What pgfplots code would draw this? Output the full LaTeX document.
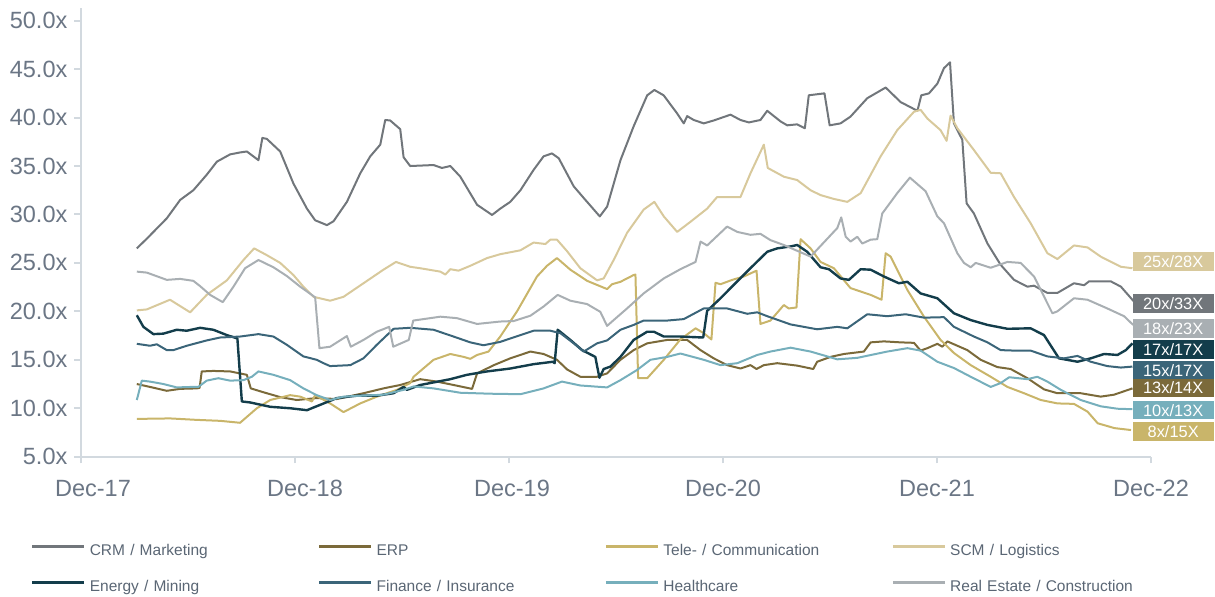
\documentclass[border=0pt]{standalone}
\usepackage{pgfplots}
\pgfplotsset{compat=1.18}
\usepackage{fontspec}
\setmainfont{Liberation Sans}
\definecolor{crm}{HTML}{71767B}
\definecolor{erp}{HTML}{7B6A3A}
\definecolor{tele}{HTML}{C9B56A}
\definecolor{scm}{HTML}{D8C99C}
\definecolor{energy}{HTML}{133D4B}
\definecolor{fin}{HTML}{3B6579}
\definecolor{health}{HTML}{76AFBC}
\definecolor{realest}{HTML}{A9AFB3}
\definecolor{axiscol}{HTML}{D2D9DF}
\definecolor{ticklab}{HTML}{6B7685}
\definecolor{legtext}{HTML}{5A6674}
\begin{document}
\begin{tikzpicture}
\begin{axis}[
  scale only axis, width=535pt, height=224.35pt,
  xmin=0, xmax=60, ymin=5, ymax=51.31,
  axis lines=left,
  axis line style={-, draw=axiscol, line width=1pt},
  tick align=outside, major tick length=3.3pt,
  tick style={draw=axiscol, line width=1pt},
  xtick={0,12,24,36,48,60},
  xticklabels={\hspace*{12pt}Dec-17,\hspace*{10pt}Dec-18,\hspace*{3pt}Dec-19,Dec-20,Dec-21,Dec-22},
  ytick={5,10,15,20,25,30,35,40,45,50},
  yticklabels={5.0x,10.0x,15.0x,20.0x,25.0x,30.0x,35.0x,40.0x,45.0x,50.0x},
  ticklabel style={font=\fontsize{11.75pt}{14pt}\selectfont, text=ticklab},
  xticklabel style={yshift=-5pt},
  clip=false,
  legend columns=4,
  legend style={draw=none, fill=none, inner sep=0pt, outer sep=0pt,
    at={(axis description cs:0,0)}, anchor=north west, xshift=-25pt, yshift=-43.4pt,
    font=\fontsize{7.75pt}{9pt}\selectfont, text=legtext,
    nodes={inner sep=0pt, text height=6pt, text depth=2pt, text width=114pt, align=left},
    row sep=10pt,
    /tikz/every odd column/.append style={column sep=2pt}},
  legend cell align=left,
  legend image code/.code={\draw[#1, line width=1.4pt] (0pt,2.6pt) -- (26pt,2.6pt);},
  every axis plot/.append style={line width=1pt, line join=round},
]
\addplot[crm] coordinates {(3.13,26.5)(3.69,27.5)(4.81,29.6)(5.56,31.5)(6.30,32.5)(7.05,34.1)(7.62,35.45)(8.36,36.2)(8.92,36.4)(9.30,36.5)(9.95,35.6)(10.17,37.9)(10.42,37.8)(11.17,36.5)(11.91,33.2)(12.67,30.6)(13.13,29.4)(13.79,28.9)(14.16,29.3)(14.91,31.3)(15.66,34.25)(16.22,36.0)(16.78,37.2)(17.06,39.75)(17.34,39.7)(17.90,38.8)(18.09,35.9)(18.46,35.0)(19.77,35.1)(20.24,34.8)(20.71,35.0)(21.27,33.9)(22.21,31.0)(23.05,29.95)(23.51,30.6)(24.07,31.3)(24.64,32.5)(25.38,34.6)(25.94,36.0)(26.41,36.3)(26.79,35.8)(27.63,32.9)(28.19,31.7)(29.09,29.8)(29.50,30.8)(30.25,35.6)(30.99,39.1)(31.75,42.3)(32.15,42.85)(32.67,42.3)(33.42,40.45)(33.80,39.4)(33.99,40.15)(34.36,39.75)(34.92,39.4)(35.48,39.7)(36.42,40.3)(36.98,39.75)(37.45,39.5)(38.10,39.75)(38.48,40.7)(39.23,39.6)(39.60,39.2)(40.16,39.3)(40.59,38.9)(40.81,42.3)(41.69,42.5)(41.98,39.2)(42.59,39.4)(43.15,40.1)(44.09,42.0)(45.12,43.1)(45.96,41.6)(46.90,40.7)(47.12,42.3)(47.55,42.5)(48.02,43.5)(48.39,45.1)(48.73,45.7)(48.95,39.4)(49.42,37.7)(49.66,31.15)(50.07,30.1)(50.83,27.0)(51.57,24.8)(52.32,23.25)(53.07,22.55)(53.44,22.65)(54.19,21.9)(54.75,21.9)(55.68,22.9)(56.25,22.7)(56.53,23.1)(57.74,23.1)(58.31,22.55)(59.05,21.0)};
\addlegendentry{CRM / Marketing}
\addplot[erp] coordinates {(3.13,12.5)(3.87,12.2)(4.81,11.8)(5.56,12.0)(6.49,12.05)(6.65,12.1)(6.77,13.8)(7.42,13.85)(8.36,13.8)(9.30,13.45)(9.52,12.05)(10.23,11.65)(11.17,11.15)(12.10,10.85)(13.22,11.05)(14.35,10.95)(15.84,11.55)(16.96,12.05)(17.90,12.4)(19.02,13.0)(19.96,12.75)(20.89,12.4)(21.93,12.0)(22.21,13.6)(23.15,14.45)(24.07,15.15)(25.20,15.85)(25.94,15.6)(26.69,15.0)(27.26,14.0)(28.00,13.25)(28.94,13.25)(29.50,13.6)(30.25,15.0)(30.99,16.0)(31.75,16.7)(32.87,17.05)(33.99,17.05)(34.74,16.0)(35.48,15.15)(36.23,14.45)(36.98,14.1)(37.54,14.45)(37.88,14.05)(38.29,14.45)(39.04,14.65)(40.16,14.4)(41.06,14.05)(41.28,14.8)(42.03,15.3)(42.78,15.6)(43.90,15.85)(44.28,16.8)(45.02,16.9)(45.96,16.8)(46.71,16.75)(47.08,15.95)(47.46,16.2)(48.02,16.65)(48.30,16.35)(48.58,16.9)(49.70,16.0)(50.45,15.0)(51.38,14.25)(52.13,14.05)(53.07,13.1)(54.00,11.95)(54.75,11.55)(56.06,11.55)(57.18,11.2)(57.93,11.4)(58.96,12.05)};
\addlegendentry{ERP}
\addplot[tele] coordinates {(3.13,8.9)(4.99,8.95)(6.49,8.8)(7.80,8.7)(8.92,8.5)(9.86,10.0)(10.61,10.85)(11.73,11.35)(12.29,11.2)(12.95,10.7)(13.13,11.35)(13.97,10.5)(14.72,9.6)(15.66,10.5)(16.59,11.2)(17.72,11.9)(18.46,12.6)(18.65,13.25)(19.77,15.0)(20.71,15.6)(21.46,15.3)(21.83,15.1)(22.21,15.5)(22.85,15.85)(23.51,17.4)(24.45,20.0)(25.57,23.6)(26.13,24.7)(26.69,25.5)(27.44,24.3)(28.38,23.15)(29.50,22.3)(29.78,22.8)(30.25,23.05)(30.99,23.75)(31.09,23.8)(31.24,13.1)(31.75,13.1)(32.68,15.0)(33.61,17.1)(34.46,18.25)(34.92,17.75)(35.35,17.1)(35.58,22.95)(35.86,22.8)(36.52,23.25)(37.17,23.6)(37.88,24.2)(38.10,18.7)(38.66,19.05)(39.41,20.65)(39.69,20.3)(40.12,20.4)(40.35,27.45)(40.91,26.5)(41.47,25.1)(42.22,24.45)(43.15,22.4)(44.28,21.7)(44.89,21.2)(45.12,26.0)(45.40,25.65)(46.34,22.2)(47.27,19.45)(48.20,17.05)(48.95,15.7)(49.89,14.45)(51.01,13.25)(51.95,12.2)(52.88,11.55)(53.82,10.85)(54.75,10.5)(55.68,10.45)(56.44,9.65)(57.01,8.45)(57.95,7.95)(58.88,7.75)};
\addlegendentry{Tele- / Communication}
\addplot[scm] coordinates {(3.13,20.1)(3.69,20.2)(4.99,21.2)(6.12,19.9)(7.05,21.7)(8.18,23.2)(9.11,25.3)(9.71,26.5)(10.42,25.8)(11.17,25.0)(11.91,23.75)(12.47,22.55)(13.04,21.5)(13.97,21.1)(14.72,21.5)(15.84,22.9)(16.96,24.3)(17.66,25.1)(18.46,24.6)(19.02,24.45)(20.15,24.1)(20.43,23.8)(20.71,24.35)(21.17,24.2)(21.83,24.7)(22.77,25.5)(23.51,25.9)(24.64,26.3)(25.38,27.1)(26.04,26.95)(26.32,27.4)(26.69,27.4)(27.26,26.2)(28.00,24.45)(28.94,23.2)(29.31,23.4)(29.87,25.3)(30.62,28.1)(31.55,30.5)(32.15,31.3)(32.68,29.8)(33.43,28.2)(34.18,29.25)(35.11,30.6)(35.67,31.8)(36.98,31.8)(37.54,34.25)(38.29,37.2)(38.51,34.8)(39.41,33.9)(40.16,33.55)(40.91,32.5)(41.47,32.0)(42.22,31.6)(42.97,31.3)(43.72,32.2)(44.84,36.0)(45.77,38.7)(46.71,40.6)(47.08,40.8)(47.46,39.9)(48.20,38.7)(48.54,37.6)(48.76,40.2)(49.14,38.9)(50.07,36.65)(51.01,34.3)(51.57,34.25)(52.32,31.8)(53.25,29.1)(54.19,26.0)(54.75,25.4)(55.68,26.8)(56.44,26.6)(57.18,25.65)(58.31,24.6)(58.96,24.45)};
\addlegendentry{SCM / Logistics}
\addplot[energy, line width=1.2pt] coordinates {(3.13,19.6)(3.50,18.4)(4.06,17.65)(4.62,17.7)(5.37,18.1)(5.93,18.0)(6.68,18.3)(7.42,18.1)(8.18,17.55)(8.77,17.2)(9.02,10.7)(9.48,10.6)(10.61,10.15)(11.73,10.0)(12.67,9.8)(13.41,10.35)(14.35,11.05)(15.47,11.3)(16.59,11.3)(17.53,11.55)(18.09,12.2)(18.28,11.9)(19.02,12.4)(20.71,13.0)(21.64,13.45)(22.77,13.8)(24.07,14.1)(25.38,14.55)(26.47,14.8)(26.56,14.65)(26.73,18.1)(27.44,17.05)(28.10,16.0)(28.84,15.3)(29.07,13.15)(29.31,14.05)(29.69,14.3)(30.25,15.3)(30.99,17.05)(31.75,17.9)(32.12,17.9)(32.68,17.4)(33.61,17.4)(34.89,17.3)(35.11,20.05)(35.86,21.35)(36.80,23.1)(37.73,24.8)(38.48,26.15)(39.04,26.5)(39.79,26.7)(40.16,26.85)(40.72,26.15)(41.47,24.55)(41.94,24.35)(42.59,23.4)(43.06,23.25)(43.72,24.35)(44.28,24.3)(45.02,23.6)(45.86,22.9)(46.34,23.05)(47.08,21.85)(48.02,21.35)(48.95,19.8)(49.89,19.1)(50.83,18.6)(51.95,18.2)(53.25,18.25)(54.0,17.55)(54.84,15.15)(55.88,14.8)(56.62,15.15)(57.37,15.6)(58.12,15.5)(58.59,16.0)(58.96,16.7)};
\addlegendentry{Energy / Mining}
\addplot[fin] coordinates {(3.13,16.65)(3.87,16.45)(4.25,16.6)(4.81,16.0)(5.18,16.0)(5.93,16.45)(7.05,17.0)(7.80,17.3)(8.92,17.4)(9.95,17.65)(10.79,17.4)(11.54,16.55)(12.47,15.35)(13.22,15.0)(13.6,14.65)(13.97,14.35)(15.10,14.45)(15.84,15.15)(16.59,16.55)(17.53,18.2)(18.46,18.3)(19.77,18.1)(20.89,17.4)(21.83,16.8)(22.57,16.5)(23.51,16.85)(24.64,17.55)(25.38,18.0)(26.32,18.0)(26.88,17.75)(27.63,16.7)(28.19,15.85)(28.94,16.7)(29.50,17.0)(30.25,18.1)(30.99,18.6)(31.55,19.05)(32.87,19.05)(33.80,19.2)(34.92,20.3)(36.23,20.3)(37.36,19.75)(37.92,19.9)(38.48,19.5)(39.79,18.65)(41.28,18.15)(42.41,18.4)(42.97,18.25)(44.09,19.7)(45.21,19.5)(46.24,19.7)(47.27,19.35)(48.39,19.4)(48.95,18.4)(50.07,17.4)(50.83,16.8)(51.57,16.0)(52.32,15.95)(53.25,15.95)(54.19,15.35)(55.12,15.15)(55.88,15.4)(56.62,14.8)(57.55,14.35)(58.31,14.2)(58.96,14.3)};
\addlegendentry{Finance / Insurance}
\addplot[health] coordinates {(3.13,10.85)(3.41,12.85)(3.87,12.75)(4.62,12.5)(5.37,12.15)(6.21,12.2)(6.58,12.2)(7.05,12.85)(7.70,13.1)(8.36,12.85)(9.11,12.9)(9.58,13.25)(9.95,13.8)(10.79,13.45)(11.73,12.9)(12.47,12.05)(13.22,11.35)(13.97,10.85)(14.72,11.2)(15.84,11.3)(16.96,11.4)(18.09,11.9)(18.65,12.25)(19.77,12.05)(21.27,11.6)(22.95,11.5)(24.64,11.45)(25.94,12.05)(26.97,12.75)(28.00,12.35)(29.50,12.15)(30.25,12.9)(31.18,13.95)(31.93,15.0)(32.87,15.3)(33.61,15.65)(34.92,15.0)(35.86,14.45)(36.80,14.65)(37.92,15.5)(38.66,15.85)(39.79,16.25)(40.91,15.85)(42.41,15.05)(43.53,15.2)(45.21,15.85)(46.34,16.2)(47.08,15.95)(48.02,14.8)(48.95,14.15)(49.89,13.25)(51.01,12.2)(51.57,12.6)(52.05,13.2)(53.07,13.0)(53.63,13.25)(54.19,12.75)(54.94,11.9)(56.06,10.85)(57.18,10.2)(58.12,9.95)(58.96,9.9)};
\addlegendentry{Healthcare}
\addplot[realest] coordinates {(3.13,24.1)(3.69,24.0)(4.81,23.25)(5.56,23.35)(6.30,23.15)(6.68,22.6)(7.24,21.7)(7.95,20.95)(8.55,22.55)(9.20,24.45)(9.95,25.3)(10.79,24.55)(11.54,23.65)(12.29,22.55)(13.13,21.45)(13.37,16.2)(13.97,16.35)(14.91,17.45)(15.13,16.35)(15.84,17.05)(16.59,17.9)(17.28,18.4)(17.51,16.35)(18.38,17.05)(18.63,19.05)(19.21,19.2)(20.15,19.45)(21.08,19.3)(22.21,18.7)(23.51,18.95)(24.26,19.0)(25.20,19.55)(25.94,20.5)(26.73,21.7)(27.44,21.1)(28.38,20.75)(29.12,19.95)(29.50,18.5)(29.87,19.1)(30.62,20.3)(31.55,21.85)(32.68,23.4)(33.61,24.35)(34.46,25.1)(34.74,27.2)(35.11,26.8)(36.23,28.75)(36.80,28.2)(37.54,27.9)(38.10,28.0)(38.66,27.35)(39.41,26.85)(40.91,25.65)(42.41,28.6)(42.63,29.7)(42.88,27.7)(43.15,27.2)(43.53,27.7)(43.81,27.0)(44.28,27.4)(44.65,27.45)(44.93,30.1)(45.77,32.2)(46.48,33.8)(47.36,32.4)(48.02,29.8)(48.39,29.1)(49.14,26.0)(49.51,25.0)(49.89,24.55)(50.17,25.0)(51.01,24.5)(51.95,25.1)(52.69,25.0)(53.44,23.6)(54.47,19.8)(54.75,20.0)(55.68,21.35)(56.44,21.2)(57.55,20.3)(58.49,19.5)(59.0,18.6)};
\addlegendentry{Real Estate / Construction}
\tikzset{lab/.style={anchor=west, text=white, inner sep=0pt, minimum width=40.5pt, minimum height=9.2pt, font=\fontsize{8.2pt}{9pt}\selectfont}}
\node[lab, fill=scm] at (axis cs:58.95,25.13) {25x/28X};
\node[lab, fill=crm] at (axis cs:58.95,20.8) {20x/33X};
\node[lab, fill=realest] at (axis cs:58.95,18.25) {18x/23X};
\node[lab, fill=energy] at (axis cs:58.95,16.05) {17x/17X};
\node[lab, fill=fin] at (axis cs:58.95,13.9) {15x/17X};
\node[lab, fill=erp] at (axis cs:58.95,12.1) {13x/14X};
\node[lab, fill=health] at (axis cs:58.95,9.8) {10x/13X};
\node[lab, fill=tele] at (axis cs:58.95,7.6) {8x/15X};
\end{axis}
\pgfresetboundingbox
\path[use as bounding box] (-40.5pt,-70.15pt) rectangle (567pt,228.35pt);
\end{tikzpicture}
\end{document}
